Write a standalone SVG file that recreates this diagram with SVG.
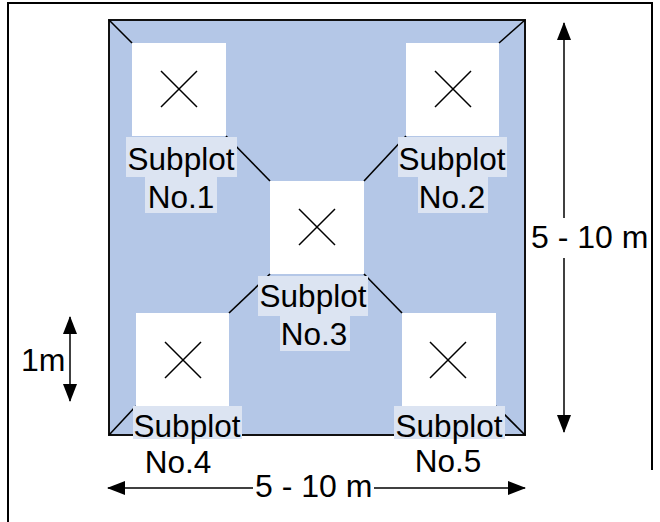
<svg xmlns="http://www.w3.org/2000/svg" width="660" height="522" viewBox="0 0 660 522">
  <defs>
    <style>
      .frame { fill: none; stroke: #000; stroke-width: 2; }
      .plot { fill: #b4c7e7; stroke: #111; stroke-width: 2; }
      .sub { fill: #fff; }
      .cross { stroke: #000; stroke-width: 1.5; fill: none; }
      .diag { stroke: #000; stroke-width: 1.6; fill: none; }
      .lblbg { fill: #dce4f2; }
      .lbl { font-family: "Liberation Sans", Arial, sans-serif; font-size: 31.5px; fill: #000; text-anchor: middle; }
      .dim { stroke: #000; stroke-width: 1.5; fill: none; }
      .dimtxt { font-family: "Liberation Sans", Arial, sans-serif; font-size: 32px; fill: #000; }
    </style>
    <marker id="ah" viewBox="0 0 18 14" refX="17" refY="7" markerWidth="18" markerHeight="14" markerUnits="userSpaceOnUse" orient="auto-start-reverse">
      <path d="M0,0 L18,7 L0,14 Z" fill="#000"/>
    </marker>
  </defs>

  <!-- outer frame -->
  <path class="frame" d="M8,522 V3 H652 V470"/>

  <!-- plot area -->
  <rect class="plot" x="109" y="20" width="416" height="415"/>

  <!-- corner-to-subplot connectors -->
  <g id="connectors">
    <line class="diag" x1="109" y1="20" x2="132" y2="43"/>
    <line class="diag" x1="525" y1="20" x2="499" y2="43"/>
    <line class="diag" x1="226" y1="136" x2="270" y2="181"/>
    <line class="diag" x1="406" y1="136" x2="364" y2="181"/>
    <line class="diag" x1="270" y1="274" x2="229" y2="313"/>
    <line class="diag" x1="364" y1="274" x2="402" y2="313"/>
    <line class="diag" x1="136" y1="406" x2="109" y2="435"/>
    <line class="diag" x1="496" y1="406" x2="525" y2="435"/>
  </g>

  <!-- subplots -->
  <g id="subplot1">
    <rect class="sub" x="132" y="43" width="94" height="93"/>
    <path class="cross" d="M161,71 L197,107 M197,71 L161,107"/>
    <rect class="lblbg" x="126" y="137" width="111" height="40"/>
    <rect class="lblbg" x="145" y="177" width="72" height="36"/>
    <text class="lbl" x="181" y="170">Subplot</text>
    <text class="lbl" x="181" y="208">No.1</text>
  </g>

  <g id="subplot2">
    <rect class="sub" x="406" y="43" width="93" height="93"/>
    <path class="cross" d="M435,71 L471,107 M471,71 L435,107"/>
    <rect class="lblbg" x="398" y="137" width="109" height="40"/>
    <rect class="lblbg" x="418" y="177" width="70" height="36"/>
    <text class="lbl" x="452" y="170">Subplot</text>
    <text class="lbl" x="452" y="208">No.2</text>
  </g>

  <g id="subplot3">
    <rect class="sub" x="270" y="181" width="94" height="93"/>
    <path class="cross" d="M299,209 L335,245 M335,209 L299,245"/>
    <rect class="lblbg" x="258" y="276" width="110" height="40"/>
    <rect class="lblbg" x="280" y="316" width="70" height="35"/>
    <text class="lbl" x="313" y="307">Subplot</text>
    <text class="lbl" x="314" y="345">No.3</text>
  </g>

  <g id="subplot4">
    <rect class="sub" x="136" y="313" width="93" height="93"/>
    <path class="cross" d="M165,342 L201,378 M201,342 L165,378"/>
    <rect class="lblbg" x="133" y="406" width="109" height="33"/>
    <text class="lbl" x="187" y="437">Subplot</text>
    <text class="lbl" x="178" y="473">No.4</text>
  </g>

  <g id="subplot5">
    <rect class="sub" x="402" y="313" width="94" height="93"/>
    <path class="cross" d="M430,342 L466,378 M466,342 L430,378"/>
    <rect class="lblbg" x="394" y="406" width="111" height="33"/>
    <text class="lbl" x="449" y="437">Subplot</text>
    <text class="lbl" x="448" y="472">No.5</text>
  </g>

  <!-- dimension arrows -->
  <g id="dimensions">
    <line class="dim" x1="564" y1="218" x2="564" y2="23" marker-end="url(#ah)"/>
    <line class="dim" x1="564" y1="258" x2="564" y2="432" marker-end="url(#ah)"/>
    <text class="dimtxt" x="531" y="248">5 - 10 m</text>

    <line class="dim" x1="253" y1="488" x2="108" y2="488" marker-end="url(#ah)"/>
    <line class="dim" x1="374" y1="488" x2="525" y2="488" marker-end="url(#ah)"/>
    <text class="dimtxt" x="255" y="497">5 - 10 m</text>

    <line class="dim" x1="70" y1="317" x2="70" y2="401" marker-start="url(#ah)" marker-end="url(#ah)"/>
    <text class="dimtxt" x="21" y="371">1m</text>
  </g>
</svg>
